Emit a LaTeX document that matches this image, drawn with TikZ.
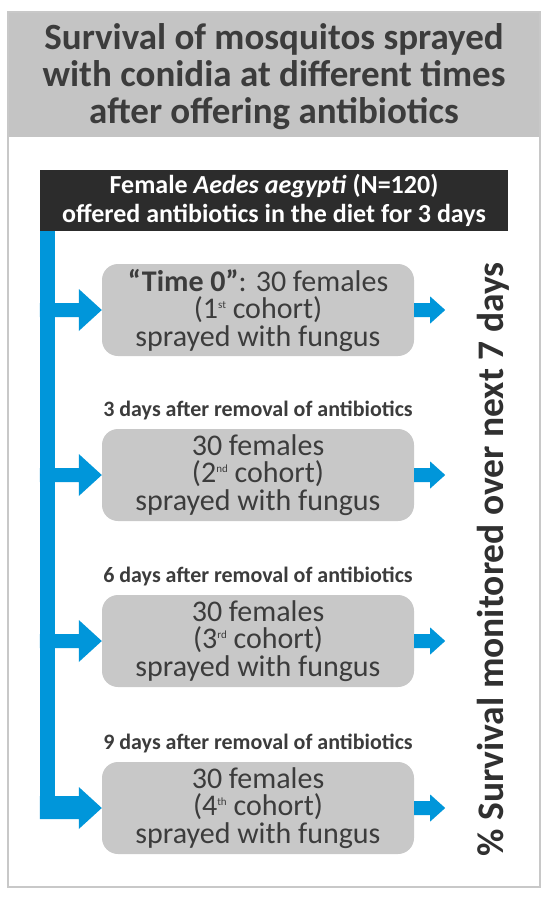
\documentclass[tikz,border=0pt]{standalone}
\usepackage{fontspec}
\setmainfont{Carlito}
\usetikzlibrary{calc}
\definecolor{bblue}{HTML}{0096DA}
\definecolor{boxgray}{HTML}{C8C8C8}
\definecolor{bandgray}{HTML}{C4C4C4}
\definecolor{bargray}{HTML}{2C2C2C}
\definecolor{txtgray}{HTML}{3C3C3C}
\definecolor{framegray}{HTML}{C8C8C8}
\newcommand{\cohsup}[1]{\raisebox{10pt}{\fontsize{11}{11}\selectfont #1}}
\begin{document}
\begin{tikzpicture}[x=1pt,y=-1pt,
  cohort/.style={fill=boxgray, rounded corners=16pt, minimum width=312pt, minimum height=92pt, inner sep=0pt, text=txtgray, align=center, font=\fontsize{30}{27.5}\selectfont},
  daylabel/.style={anchor=base, text=txtgray, font=\fontsize{22}{22}\bfseries\selectfont, inner sep=0pt},
]
\useasboundingbox (0,0) rectangle (550,897);
\fill[white] (0,0) rectangle (550,897);
\fill[bandgray] (8,12) rectangle (540,137);
\draw[line width=1.5pt, draw=framegray] (8,12) rectangle (540,887);

\node[text=txtgray, align=center, inner sep=0pt, font=\fontsize{37}{37}\bfseries\selectfont] (title) at (274,77)
  {Survival of mosquitos sprayed\\with conidia at different times\\after offering antibiotics};

\node[fill=bargray, minimum width=468pt, minimum height=61pt, text=white, align=center, inner sep=0pt,
  font=\fontsize{26}{29}\bfseries\selectfont] (top) at (274,200)
  {Female \textit{Aedes aegypti} (N=120)\\offered antibiotics in the diet for 3 days};

\node[cohort] (b1) at (258,310) {\textbf{“Time 0”}: 30 females\\(1\cohsup{st} cohort)\\sprayed with fungus};
\node[cohort] (b2) at (258,475) {30 females\\(2\cohsup{nd} cohort)\\sprayed with fungus};
\node[cohort] (b3) at (258,641) {30 females\\(3\cohsup{rd} cohort)\\sprayed with fungus};
\node[cohort] (b4) at (258,808) {30 females\\(4\cohsup{th} cohort)\\sprayed with fungus};

\node[daylabel] (l2) at ($(b2.north)+(0,-12)$) {3 days after removal of antibiotics};
\node[daylabel] (l3) at ($(b3.north)+(0,-12)$) {6 days after removal of antibiotics};
\node[daylabel] (l4) at ($(b4.north)+(0,-12)$) {9 days after removal of antibiotics};

\node[rotate=90, anchor=base, inner sep=0pt, text=txtgray!80!black, font=\fontsize{37.5}{37.5}\bfseries\selectfont] (surv) at (503,559.5)
  {\% Survival monitored over next 7 days};

% spine
\fill[bblue] (top.south west) rectangle ($(b4.west)+(-47,11)$);
% branch arrows into boxes
\foreach \b in {b1,b2,b3} {
  \fill[bblue] ($(\b.west)+(-62,-7)$) -- ($(\b.west)+(-23,-7)$) -- ($(\b.west)+(-23,-21)$) -- (\b.west)
    -- ($(\b.west)+(-23,21)$) -- ($(\b.west)+(-23,7)$) -- ($(\b.west)+(-62,7)$) -- cycle;
}
\fill[bblue] ($(b4.west)+(-62,-12)$) -- ($(b4.west)+(-23,-12)$) -- ($(b4.west)+(-23,-21)$) -- (b4.west)
    -- ($(b4.west)+(-23,21)$) -- ($(b4.west)+(-23,11)$) -- ($(b4.west)+(-62,11)$) -- cycle;
% out arrows
\foreach \b in {b1,b2,b3,b4} {
  \fill[bblue] ($(\b.east)+(0,-7)$) -- ($(\b.east)+(16,-7)$) -- ($(\b.east)+(16,-13.5)$) -- ($(\b.east)+(31,0)$)
    -- ($(\b.east)+(16,13.5)$) -- ($(\b.east)+(16,7)$) -- ($(\b.east)+(0,7)$) -- cycle;
}
\end{tikzpicture}
\end{document}
